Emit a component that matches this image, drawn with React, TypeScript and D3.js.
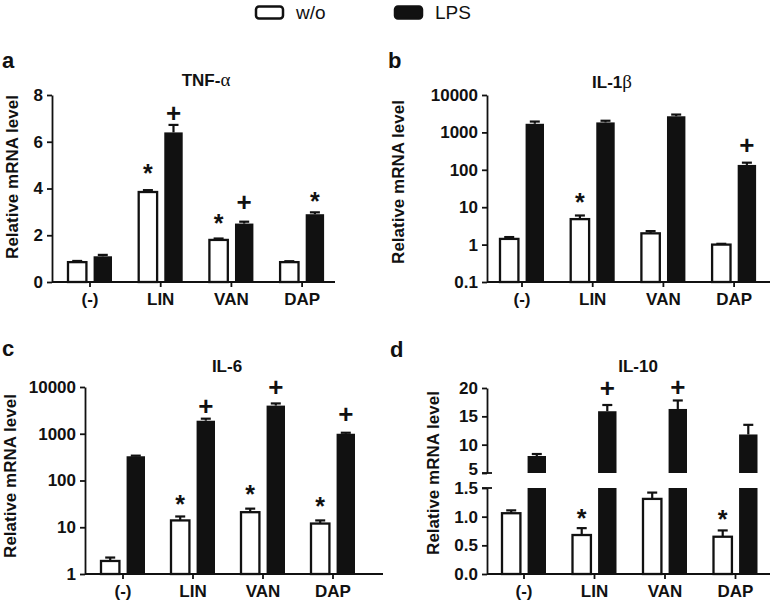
import React, { useRef, useEffect } from 'react';
import * as d3 from 'd3';

const categories = ['(-)', 'LIN', 'VAN', 'DAP'];
const legendLabels = ['w/o', 'LPS'];

// a: TNF-α
const tnfWo = [0.85, 3.85, 1.8, 0.85];
const tnfWoErr = [0.05, 0.08, 0.06, 0.04];
const tnfLps = [1.1, 6.4, 2.5, 2.9];
const tnfLpsErr = [0.06, 0.32, 0.08, 0.08];
const tnfTicks = [0, 2, 4, 6, 8];
const tnfMarks = [
  { cat: 'LIN', series: 0, sym: '*', at: 4.88 },
  { cat: 'LIN', series: 1, sym: '+', at: 7.23 },
  { cat: 'VAN', series: 0, sym: '*', at: 2.78 },
  { cat: 'VAN', series: 1, sym: '+', at: 3.42 },
  { cat: 'DAP', series: 1, sym: '*', at: 3.72 },
];

// b: IL-1β (log)
const il1Wo = [1.42, 4.8, 2.0, 1.0];
const il1WoErr = [0.17, 1.2, 0.3, 0.05];
const il1Lps = [1700, 1850, 2700, 135];
const il1LpsErr = [250, 200, 300, 20];
const il1Ticks = [0.1, 1, 10, 100, 1000, 10000];
const il1Marks = [
  { cat: 'LIN', series: 0, sym: '*', at: 19 },
  { cat: 'DAP', series: 1, sym: '+', at: 460 },
];

// c: IL-6 (log)
const il6Wo = [1.9, 14, 21, 12];
const il6WoErr = [0.35, 3, 4, 2];
const il6Lps = [330, 1900, 4000, 1000];
const il6LpsErr = [10, 200, 450, 50];
const il6Ticks = [1, 10, 100, 1000, 10000];
const il6Marks = [
  { cat: 'LIN', series: 0, sym: '*', at: 42 },
  { cat: 'LIN', series: 1, sym: '+', at: 3930 },
  { cat: 'VAN', series: 0, sym: '*', at: 69 },
  { cat: 'VAN', series: 1, sym: '+', at: 10000 },
  { cat: 'DAP', series: 0, sym: '*', at: 38 },
  { cat: 'DAP', series: 1, sym: '+', at: 2650 },
];

// d: IL-10 (broken axis)
const il10Wo = [1.06, 0.68, 1.31, 0.65];
const il10WoErr = [0.05, 0.12, 0.11, 0.11];
const il10Lps = [8.0, 15.9, 16.3, 11.8];
const il10LpsErr = [0.35, 1.1, 1.5, 1.7];
const il10TicksLow = [0, 0.5, 1.0, 1.5];
const il10TicksHigh = [5, 10, 15, 20];
const il10Marks = [
  { cat: 'LIN', series: 0, sym: '*', at: 1.08 },
  { cat: 'LIN', series: 1, sym: '+', at: 20 },
  { cat: 'VAN', series: 1, sym: '+', at: 20.2 },
  { cat: 'DAP', series: 0, sym: '*', at: 1.06 },
];

const FONT = '"Liberation Sans", Arial, Helvetica, sans-serif';
const INK = '#111';

interface Mark { cat: string; series: number; sym: string; at: number }
interface Seg { log?: boolean; domain: [number, number]; range: [number, number]; ticks: number[]; fmt: string }
interface PanelDef {
  letter: string; title: string; greek: string;
  wo: number[]; woErr: number[]; lps: number[]; lpsErr: number[]; marks: Mark[];
  segs: Seg[];
  axisX: number; axisEnd: number; firstCenter: number; step: number;
  letterPos: [number, number]; titlePos: [number, number]; labelPos: [number, number];
}

const panels: PanelDef[] = [
  {
    letter: 'a', title: 'TNF-', greek: 'α',
    wo: tnfWo, woErr: tnfWoErr, lps: tnfLps, lpsErr: tnfLpsErr, marks: tnfMarks,
    segs: [{ domain: [0, 8], range: [282, 95], ticks: tnfTicks, fmt: 'd' }],
    axisX: 52, axisEnd: 335, firstCenter: 90, step: 70.7,
    letterPos: [2, 68], titlePos: [206, 86], labelPos: [12, 177],
  },
  {
    letter: 'b', title: 'IL-1', greek: 'β',
    wo: il1Wo, woErr: il1WoErr, lps: il1Lps, lpsErr: il1LpsErr, marks: il1Marks,
    segs: [{ log: true, domain: [0.1, 10000], range: [282, 95], ticks: il1Ticks, fmt: '~g' }],
    axisX: 487, axisEnd: 770, firstCenter: 522, step: 70.7,
    letterPos: [388, 68], titlePos: [612, 88], labelPos: [398, 182],
  },
  {
    letter: 'c', title: 'IL-6', greek: '',
    wo: il6Wo, woErr: il6WoErr, lps: il6Lps, lpsErr: il6LpsErr, marks: il6Marks,
    segs: [{ log: true, domain: [1, 10000], range: [574, 387], ticks: il6Ticks, fmt: '~g' }],
    axisX: 85, axisEnd: 383, firstCenter: 123, step: 70,
    letterPos: [2, 356], titlePos: [227, 372], labelPos: [10, 476],
  },
  {
    letter: 'd', title: 'IL-10', greek: '',
    wo: il10Wo, woErr: il10WoErr, lps: il10Lps, lpsErr: il10LpsErr, marks: il10Marks,
    segs: [
      { domain: [0, 1.5], range: [574, 488], ticks: il10TicksLow, fmt: '.1f' },
      { domain: [5, 20], range: [473, 388], ticks: il10TicksHigh, fmt: 'd' },
    ],
    axisX: 487, axisEnd: 770, firstCenter: 524, step: 70.5,
    letterPos: [390, 357], titlePos: [638, 372], labelPos: [433, 473],
  },
];

function drawPanel(svg: d3.Selection<SVGSVGElement, unknown, null, undefined>, p: PanelDef) {
  const g = svg.append('g');
  const scales = p.segs.map(s =>
    (s.log ? d3.scaleLog() : d3.scaleLinear()).domain(s.domain).range(s.range)
  );
  const baseY = p.segs[0].range[0];

  const x = d3.scaleBand<string>()
    .domain(categories)
    .range([p.firstCenter - p.step / 2, p.firstCenter + p.step * (categories.length - 0.5)]);
  const xs = d3.scaleBand<number>().domain([0, 1]).range([-22, 22]).paddingInner(0.28);
  const bw = xs.bandwidth();

  const pos = (v: number) => {
    let i = 0;
    p.segs.forEach((s, k) => { if (v >= s.domain[0]) i = k; });
    return scales[i](v);
  };
  const barLeft = (ci: number, si: number) => x(categories[ci])! + x.bandwidth() / 2 + xs(si)!;

  // bars
  [p.wo, p.lps].forEach((vals, si) => {
    vals.forEach((v, ci) => {
      const bx = barLeft(ci, si);
      p.segs.forEach((s, k) => {
        if (v <= s.domain[0]) return;
        const y0 = scales[k](s.domain[0]);
        const y1 = scales[k](Math.min(v, s.domain[1]));
        g.append('rect')
          .attr('x', bx)
          .attr('y', y1)
          .attr('width', bw)
          .attr('height', y0 - y1)
          .attr('fill', si === 0 ? '#fff' : INK)
          .attr('stroke', INK)
          .attr('stroke-width', si === 0 ? 2.3 : 0);
      });
    });
  });

  // error bars (upper only)
  [[p.wo, p.woErr], [p.lps, p.lpsErr]].forEach(([vals, errs], si) => {
    vals.forEach((v, ci) => {
      const cx = barLeft(ci, si) + bw / 2;
      const yTop = pos(v + errs[ci]);
      g.append('line')
        .attr('x1', cx).attr('x2', cx)
        .attr('y1', pos(v)).attr('y2', yTop)
        .attr('stroke', INK).attr('stroke-width', 2.2);
      g.append('line')
        .attr('x1', cx - 5).attr('x2', cx + 5)
        .attr('y1', yTop).attr('y2', yTop)
        .attr('stroke', INK).attr('stroke-width', 2.2);
    });
  });

  // significance marks
  p.marks.forEach(m => {
    const ci = categories.indexOf(m.cat);
    const cx = barLeft(ci, m.series) + bw / 2;
    const isStar = m.sym === '*';
    const size = isStar ? 25 : 26;
    g.append('text')
      .attr('x', cx)
      .attr('y', pos(m.at) + (isStar ? 0.58 : 0.35) * size)
      .attr('text-anchor', 'middle')
      .attr('font-family', FONT)
      .attr('font-weight', 'bold')
      .attr('font-size', size)
      .attr('fill', INK)
      .text(m.sym);
  });

  // y axis segments
  p.segs.forEach((s, k) => {
    const ax = g.append('g')
      .attr('transform', `translate(${p.axisX},0)`)
      .call(
        d3.axisLeft(scales[k] as any)
          .tickValues(s.ticks)
          .tickFormat(d3.format(s.fmt) as any)
          .tickSize(5)
          .tickSizeOuter(0)
          .tickPadding(4)
      );
    ax.selectAll('path, line').attr('stroke', INK).attr('stroke-width', 1.8);
    ax.selectAll('text')
      .attr('fill', INK)
      .attr('font-family', FONT)
      .attr('font-weight', 'bold')
      .attr('font-size', 17);
    // lowest label of an upper segment sits just above the break
    if (k > 0) {
      ax.selectAll<SVGTextElement, number>('text')
        .filter(d => d === s.domain[0])
        .attr('dy', '0.1em');
    }
  });

  // axis break marks
  if (p.segs.length > 1) {
    for (let k = 0; k < p.segs.length - 1; k++) {
      [scales[k](p.segs[k].domain[1]), scales[k + 1](p.segs[k + 1].domain[0])].forEach(yb => {
        g.append('line')
          .attr('x1', p.axisX - 5).attr('x2', p.axisX + 5)
          .attr('y1', yb).attr('y2', yb)
          .attr('stroke', INK).attr('stroke-width', 1.8);
      });
    }
  }

  // x axis
  g.append('line')
    .attr('x1', p.axisX).attr('x2', p.axisEnd)
    .attr('y1', baseY).attr('y2', baseY)
    .attr('stroke', INK).attr('stroke-width', 1.8);
  const xa = g.append('g')
    .attr('transform', `translate(0,${baseY})`)
    .call(d3.axisBottom(x).tickSize(5).tickSizeOuter(0).tickPadding(6));
  xa.select('.domain').remove();
  xa.selectAll('line').attr('stroke', INK).attr('stroke-width', 1.8);
  xa.selectAll('text')
    .attr('fill', INK)
    .attr('font-family', FONT)
    .attr('font-weight', 'bold')
    .attr('font-size', 17);

  // y label
  g.append('text')
    .attr('transform', `translate(${p.labelPos[0]},${p.labelPos[1]}) rotate(-90)`)
    .attr('dy', '0.35em')
    .attr('text-anchor', 'middle')
    .attr('font-family', FONT)
    .attr('font-weight', 'bold')
    .attr('font-size', 17)
    .attr('fill', INK)
    .text('Relative mRNA level');

  // title
  const t = g.append('text')
    .attr('x', p.titlePos[0])
    .attr('y', p.titlePos[1])
    .attr('text-anchor', 'middle')
    .attr('font-family', FONT)
    .attr('font-weight', 'bold')
    .attr('font-size', 17)
    .attr('fill', INK);
  t.append('tspan').text(p.title);
  if (p.greek) {
    t.append('tspan')
      .attr('font-family', '"Liberation Serif", "DejaVu Serif", serif')
      .attr('font-weight', 'normal')
      .attr('font-size', 19)
      .text(p.greek);
  }

  // panel letter
  g.append('text')
    .attr('x', p.letterPos[0])
    .attr('y', p.letterPos[1])
    .attr('font-family', FONT)
    .attr('font-weight', 'bold')
    .attr('font-size', 22)
    .attr('fill', INK)
    .text(p.letter);
}

export default function App() {
  const svgRef = useRef<SVGSVGElement>(null);

  useEffect(() => {
    if (!svgRef.current) return;
    const svg = d3.select(svgRef.current);
    svg.selectAll('*').remove();

    // legend
    const legend = svg.append('g');
    const legendX = [256, 395];
    legendLabels.forEach((name, i) => {
      legend.append('rect')
        .attr('x', legendX[i])
        .attr('y', 6.5)
        .attr('width', 27)
        .attr('height', 12)
        .attr('rx', 3)
        .attr('fill', i === 0 ? '#fff' : INK)
        .attr('stroke', INK)
        .attr('stroke-width', 2.5);
      legend.append('text')
        .attr('x', legendX[i] + 40)
        .attr('y', 19)
        .attr('font-family', FONT)
        .attr('font-size', 19)
        .attr('fill', INK)
        .text(name);
    });

    panels.forEach(p => drawPanel(svg, p));
  }, []);

  return (
    <svg
      ref={svgRef}
      width={772}
      height={605}
      style={{ position: 'absolute', left: 0, top: 0, background: '#fff' }}
    />
  );
}
